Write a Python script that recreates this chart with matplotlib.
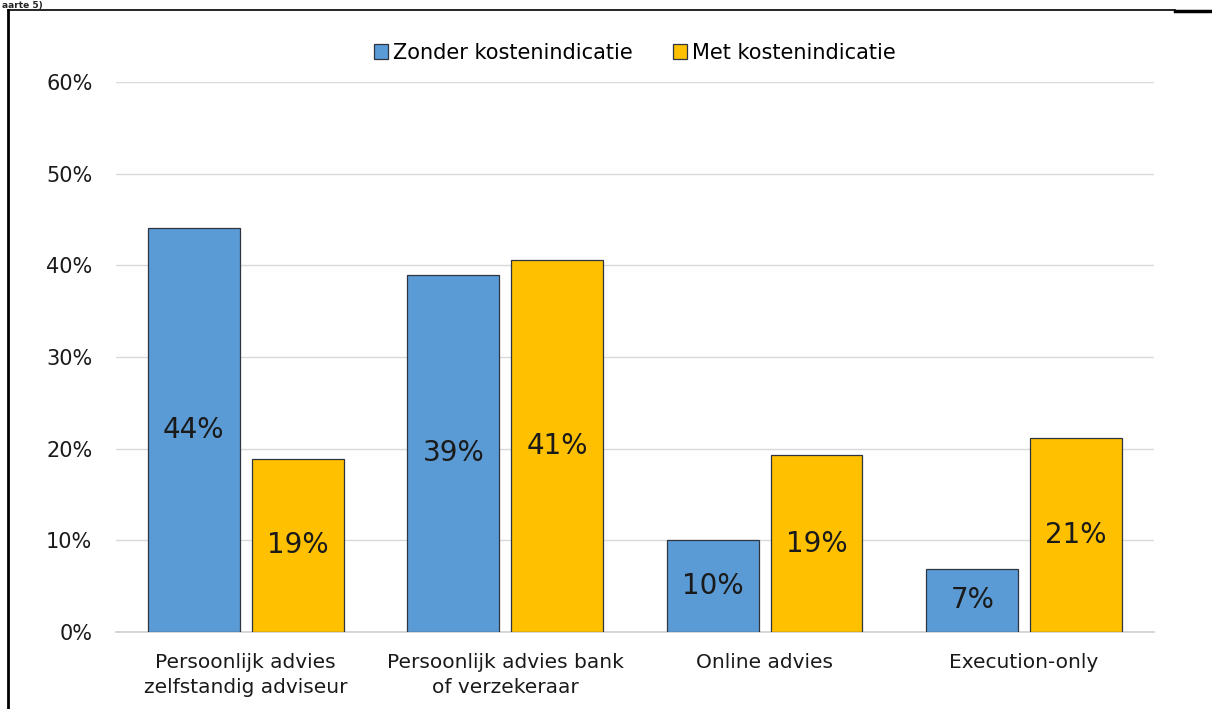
import numpy as np
import matplotlib
matplotlib.use('Agg')
import matplotlib.pyplot as plt
from matplotlib.lines import Line2D

categories = ['Persoonlijk advies\nzelfstandig adviseur',
              'Persoonlijk advies bank\nof verzekeraar',
              'Online advies',
              'Execution-only']
zonder = [44.1, 39.0, 10.0, 6.9]
met = [18.9, 40.6, 19.3, 21.2]
zonderLabels = ['44%', '39%', '10%', '7%']
metLabels = ['19%', '41%', '19%', '21%']
yTicks = [0, 10, 20, 30, 40, 50, 60]

blue = '#5B9BD5'
yellow = '#FFC000'
edge = '#2E3440'

plt.rcParams['font.family'] = ['DejaVu Sans']
fig = plt.figure(figsize=(12.12, 7.09), dpi=100)
ax = fig.add_axes([0.0957, 0.1086, 0.8563, 0.7757])

x = np.arange(len(categories))
w = 0.354
b1 = ax.bar(x - 0.2, zonder, w, color=blue, edgecolor=edge, linewidth=0.9,
            label='Zonder kostenindicatie', zorder=3)
b2 = ax.bar(x + 0.2, met, w, color=yellow, edgecolor=edge, linewidth=0.9,
            label='Met kostenindicatie', zorder=3)

for rect, lab in zip(b1, zonderLabels):
    ax.text(rect.get_x() + rect.get_width() / 2, rect.get_height() / 2, lab,
            ha='center', va='center', fontsize=20, color='#1a1a1a', zorder=4)
for rect, lab in zip(b2, metLabels):
    ax.text(rect.get_x() + rect.get_width() / 2, rect.get_height() / 2, lab,
            ha='center', va='center', fontsize=20, color='#1a1a1a', zorder=4)

ax.set_xlim(-0.5, len(categories) - 0.5)
ax.set_ylim(0, 60)
ax.set_yticks(yTicks)
ax.set_yticklabels([str(t) + '%' for t in yTicks], fontsize=15)
ax.set_xticks(x)
ax.set_xticklabels(categories, fontsize=14.5, linespacing=1.4)
ax.tick_params(axis='both', length=0, colors='#1a1a1a')
ax.tick_params(axis='y', pad=17)
ax.tick_params(axis='x', pad=15)
ax.yaxis.grid(True, color='#D9D9D9', linewidth=1, zorder=0)
for s in ['top', 'right', 'left']:
    ax.spines[s].set_visible(False)
ax.spines['bottom'].set_color('#D0D0D0')
ax.spines['bottom'].set_linewidth(1.2)

ax.legend(loc='upper center', bbox_to_anchor=(0.5, 1.105), ncol=2, frameon=False,
          fontsize=15, handlelength=0.7, handleheight=0.7, handletextpad=0.25,
          columnspacing=1.9)

# frame lines of the cut out page
fig.add_artist(Line2D([8 / 1212, 8 / 1212], [0, 1 - 10 / 709], color='black', lw=2))
fig.add_artist(Line2D([8 / 1212, 1175 / 1212], [1 - 10 / 709, 1 - 10 / 709], color='black', lw=1.2))
fig.add_artist(Line2D([1175 / 1212, 1], [1 - 11 / 709, 1 - 11 / 709], color='black', lw=2.5))
fig.text(0.002, 0.999, 'aarte 5)', fontsize=6.5, fontweight='bold', va='top', ha='left', color='#222222')

fig.savefig('out.png', dpi=100, facecolor='white')
